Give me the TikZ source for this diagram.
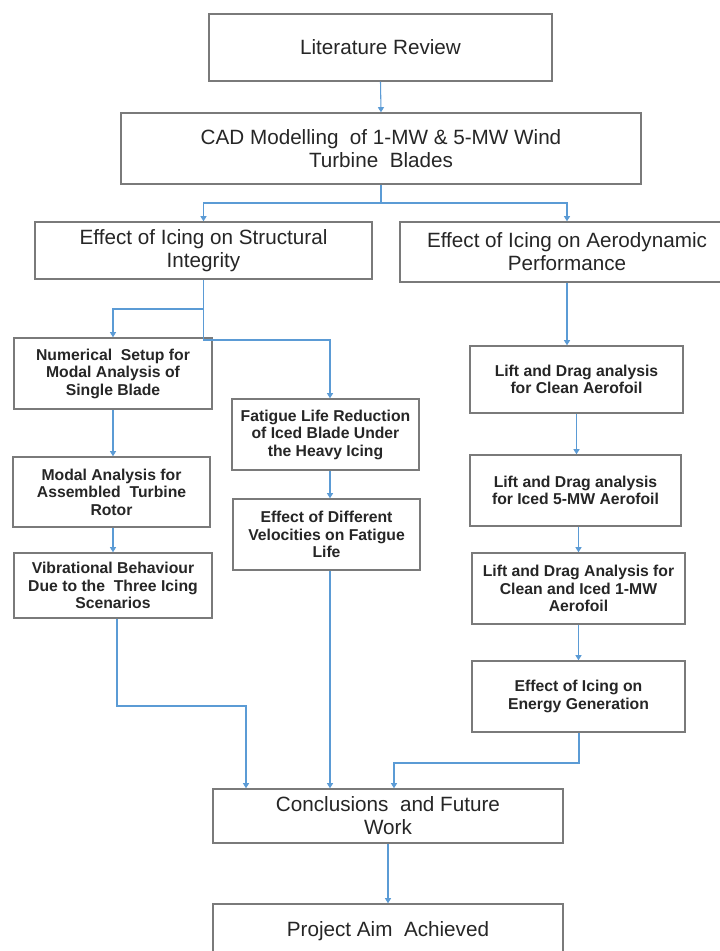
\documentclass[tikz,border=0pt]{standalone}
\usepackage{fontspec}
\setmainfont{Liberation Sans}
\usetikzlibrary{arrows.meta}
\colorlet{colorBOX}{black!52}
\definecolor{colorFLOW}{HTML}{5B9BD5}
\colorlet{colorTXT}{black!85}
\newcommand{\bigtxt}{\fontsize{15.5}{17.3}\selectfont}
\newcommand{\smalltxt}{\fontsize{11.8}{13.1}\selectfont\bfseries}
\tikzset{
   every path/.style={>={Triangle[width=4.5pt,length=3.8pt]}},
   blk/.style 2 args={draw=colorBOX,line width=1.1pt,fill=white,align=center,
      text=colorTXT,inner sep=0pt,minimum width=#1,minimum height=#2},
   bigblk/.style 2 args={blk={#1}{#2},font=\bigtxt},
   smallblk/.style 2 args={blk={#1}{#2},font=\smalltxt},
   flow/.style={->,color=colorFLOW,line width=0.8pt},
}

\begin{document}
\begin{tikzpicture}[x=0.75pt,y=-0.75pt]
      \useasboundingbox[fill=white] (0,0) rectangle (720,951);
      \node[bigblk={257.25pt}{50.25pt}] (lit) at (380.5,47.5) {Literature Review};
      \node[bigblk={390pt}{53.25pt}] (cad) at (381,148.5) {CAD Modelling\ \ of 1-MW \& 5-MW Wind\\Turbine\ \ Blades};
      \node[bigblk={252.75pt}{42.75pt}] (str) at (203.5,250.5) {Effect of Icing on Structural\\Integrity};
      \node[bigblk={250.5pt}{45pt}] (aer) at (567,252) {Effect of Icing on Aerodynamic\\Performance};
      \node[smallblk={148.5pt}{53.25pt}] (num) at (113,373.5) {Numerical\ \ Setup for\\Modal Analysis of\\Single Blade};
      \node[smallblk={147.75pt}{52.5pt}] (mod) at (111.5,492) {Modal Analysis for\\Assembled\ \ Turbine\\Rotor};
      \node[smallblk={148.5pt}{48.75pt}] (vib) at (113,585.5) {Vibrational Behaviour\\Due to the\ \ Three Icing\\Scenarios};
      \node[smallblk={140.25pt}{53.25pt}] (fat) at (325.5,434.5) {Fatigue Life Reduction\\of Iced Blade Under\\the Heavy Icing};
      \node[smallblk={140.25pt}{53.25pt}] (vel) at (326.5,534.5) {Effect of Different\\Velocities on Fatigue\\Life};
      \node[smallblk={159.75pt}{50.25pt}] (ldc) at (576.5,379.5) {Lift and Drag analysis\\for Clean Aerofoil};
      \node[smallblk={158.25pt}{53.25pt}] (ld5) at (575.5,490.5) {Lift and Drag analysis\\for Iced 5-MW Aerofoil};
      \node[smallblk={159.75pt}{53.25pt}] (ld1) at (578.5,588.5) {Lift and Drag Analysis for\\Clean and Iced 1-MW\\Aerofoil};
      \node[smallblk={159.75pt}{53.25pt}] (eng) at (578.5,696.5) {Effect of Icing on\\Energy Generation};
      \node[bigblk={262.5pt}{40.5pt}] (con) at (388,816) {Conclusions\ \ and Future\\Work};
      \node[bigblk={262.5pt}{40.5pt}] (aim) at (388,931) {Project Aim\ \ Achieved};
      \coordinate (cs) at (381,203);
      \coordinate (sj) at (203.5,309);
      \coordinate (sk) at (203.5,340);
      \coordinate (fk) at (330,340);
      \coordinate (vj) at (117,706);
      \coordinate (c1) at (246,706);
      \coordinate (ej) at (579,763);
      \coordinate (c3) at (394,763);
      \draw[flow] (lit.south) -- (cad.north);
      \draw[flow] (cad.south) -- (cs) -| (str.north);
      \draw[flow] (cs) -| (aer.north);
      \draw[flow] (str.south) -- (sj) -| (num.north);
      \draw[flow] (sj) -- (sk) -- (fk) -- (fk |- fat.north);
      \draw[flow] (num.south) -- (num.south |- mod.north);
      \draw[flow] (mod.south -| vib.north) -- (vib.north);
      \draw[flow] (fk |- fat.south) -- (fk |- vel.north);
      \draw[flow] (fk |- vel.south) -- (fk |- con.north);
      \draw[flow] (vib.south -| vj) -- (vj) -- (c1) -- (c1 |- con.north);
      \draw[flow] (aer.south) -- (aer.south |- ldc.north);
      \draw[flow] (ldc.south) -- (ldc.south |- ld5.north);
      \draw[flow] (ld1.north |- ld5.south) -- (ld1.north);
      \draw[flow] (ld1.south) -- (eng.north);
      \draw[flow] (eng.south -| ej) -- (ej) -- (c3) -- (c3 |- con.north);
      \draw[flow] (con.south) -- (aim.north);
    \end{tikzpicture}
\end{document}
